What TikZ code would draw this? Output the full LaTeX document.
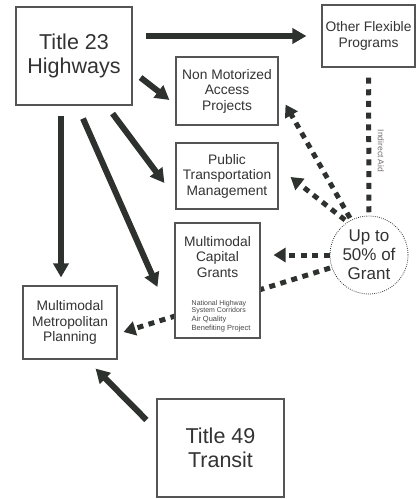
\documentclass[tikz,border=0pt]{standalone}
\usepackage{fontspec}
\setmainfont{Liberation Sans}
\usetikzlibrary{arrows.meta,calc}
\definecolor{arr}{HTML}{2E322E}
\definecolor{bord}{HTML}{555555}
\definecolor{txt}{HTML}{333333}
\pgfdeclarelayer{bg}
\pgfsetlayers{bg,main}
\begin{document}
\begin{tikzpicture}[x=1pt,y=-1pt,
  box/.style={draw=bord,line width=1.1pt,fill=white,text=txt,align=center,inner sep=0pt},
  big/.style={font=\fontsize{21.5}{24.5}\selectfont},
  mid/.style={font=\fontsize{13.8}{15.5}\selectfont},
  small/.style={font=\fontsize{7}{8}\selectfont,text=txt!90,inner sep=0pt,anchor=base west},
  solidarrow/.style={draw=arr,line width=6pt,-{Triangle[length=14pt,width=15pt]}},
  dotarrow/.style={draw=arr,line width=5pt,dash pattern=on 6pt off 5.5pt,-{Triangle[length=12pt,width=14pt]}},
  dotline/.style={draw=arr,line width=5pt,dash pattern=on 6pt off 5.7pt},
]
\useasboundingbox (0,0) rectangle (417,499);

\node[box,big,minimum width=116pt,minimum height=98pt] (t23) at (74,56) {Title 23\\Highways};
\node[box,mid,minimum width=93pt,minimum height=62pt] (oth) at (368.5,36) {Other Flexible\\Programs};
\node[box,mid,minimum width=102pt,minimum height=68pt] (nonmot) at (227,91) {Non Motorized\\Access\\Projects};
\node[box,mid,minimum width=102pt,minimum height=66pt] (pub) at (227,176) {Public\\Transportation\\Management};
\node[box,minimum width=85pt,minimum height=115pt] (grants) at (217.5,280.5) {};
\node[mid,text=txt,align=center,inner sep=0pt,anchor=north] (gt) at (217.5,236) {Multimodal\\Capital\\Grants};
\node[small] (g1) at (191.5,305.5) {National Highway};
\node[small] (g2) at (191.5,312) {System Corridors};
\node[small,font=\fontsize{7.5}{8}\selectfont] (g3) at (191.5,321) {Air Quality};
\node[small,font=\fontsize{7.5}{8}\selectfont] (g4) at (191.5,330) {Benefiting Project};
\node[box,mid,minimum width=94pt,minimum height=73pt] (plan) at (70,322.5) {Multimodal\\Metropolitan\\Planning};
\node[box,big,minimum width=127pt,minimum height=98pt] (t49) at (220.5,448) {Title 49\\Transit};
\node[circle,draw=arr,line width=0.8pt,dash pattern=on 0.8pt off 1.3pt,fill=white,minimum size=78pt,inner sep=0pt,
      align=center,text=txt,font=\fontsize{17}{19}\selectfont] (circ) at (369,255) {Up to\\50\% of\\Grant};
\node[rotate=-90,font=\fontsize{8.5}{9}\selectfont,text=txt!70,inner sep=0pt] (ia) at (381,151) {Indirect Aid};

\begin{pgfonlayer}{bg}
\draw[solidarrow,shorten <=13pt,shorten >=15pt] (t23.east |- oth.west) -- (oth.west);
\draw[solidarrow] ($(t23.south east)+(8,-28)$) -- ($(nonmot.west)+(-6,9)$);
\draw[solidarrow] ($(t23.south east)+(-20,8)$) -- ($(pub.west)+(-11,7)$);
\draw[solidarrow] ($(t23.south)+(9,13)$) -- ($(grants.west)+(-17,6.5)$);
\draw[solidarrow] ($(t23.south)+(-13,10)$) -- ($(plan.north)+(-9,-8)$);
\draw[solidarrow] ($(t49.west)+(-10,-28)$) -- ($(plan.south east)+(-22,9)$);

\draw[dotarrow] ($(circ.center)+(-19,-37)$) -- ($(nonmot.south east)+(7,-21)$);
\draw[dotarrow] ($(circ.center)+(-24,-35)$) -- ($(pub.east)+(12,1)$);
\draw[dotarrow,shorten >=13pt] (circ.west) -- (grants.east |- circ.west);
\draw[dotarrow] ($(circ.center)+(-39,13)$) -- ($(plan.east)+(6,9.5)$);
\draw[dotline,shorten <=10pt,shorten >=3pt] (oth.south) -- (circ.north);
\end{pgfonlayer}
\end{tikzpicture}
\end{document}
